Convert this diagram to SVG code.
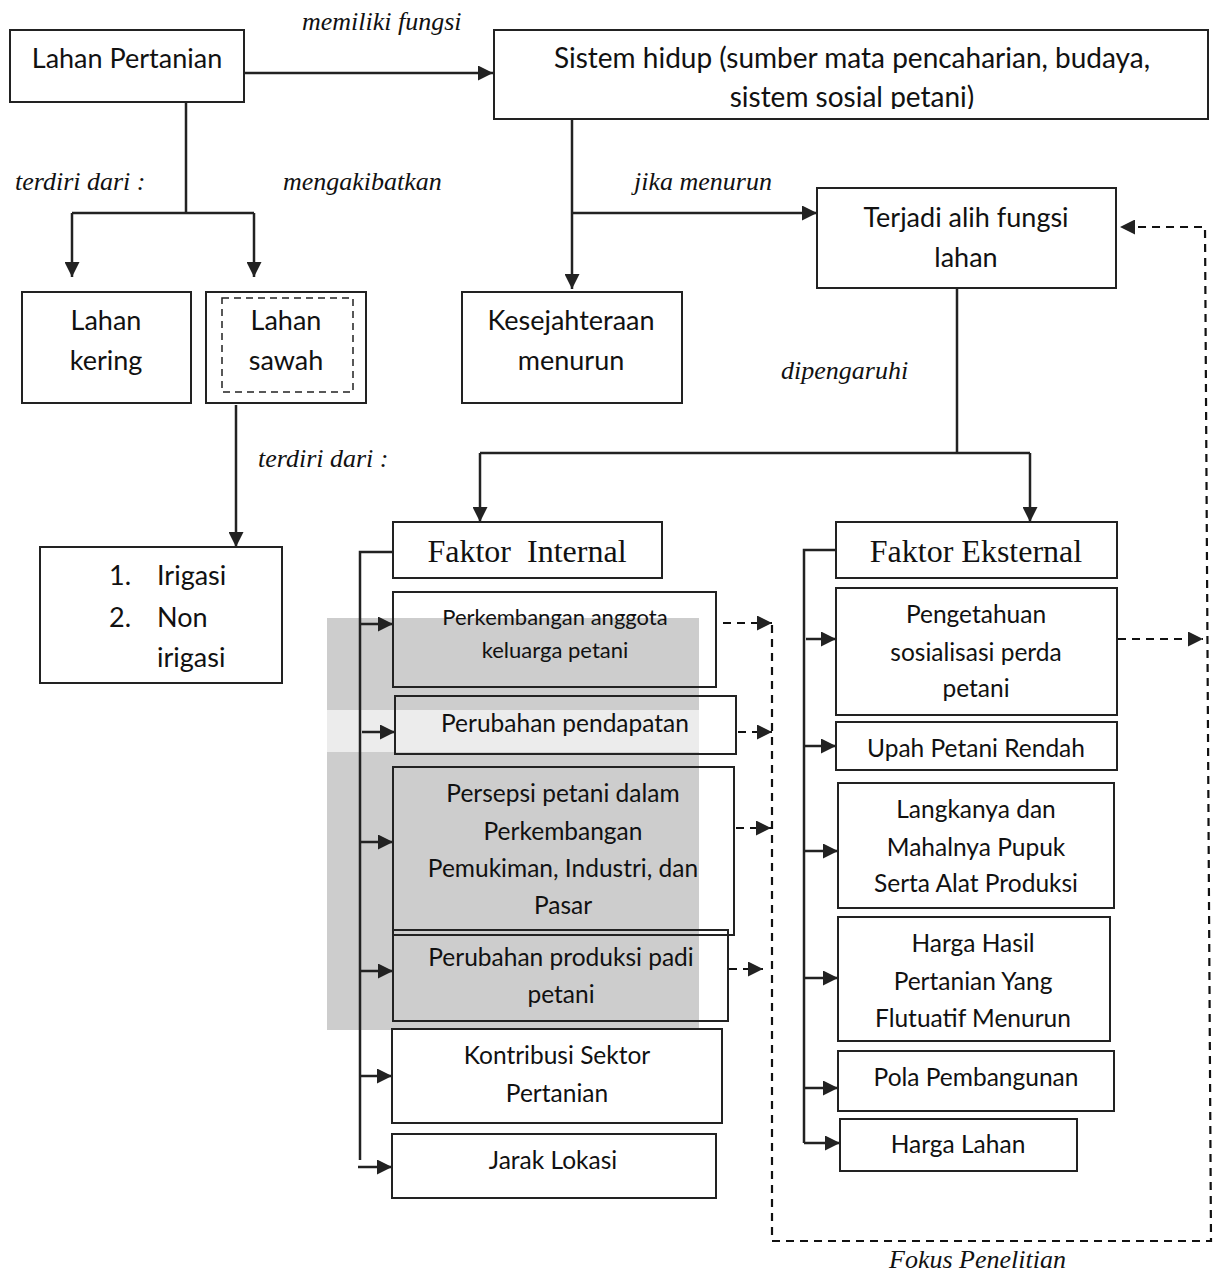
<svg xmlns="http://www.w3.org/2000/svg" width="1223" height="1276" viewBox="0 0 1223 1276">
<style>
.box{fill:none;stroke:#222;stroke-width:2}
.t{font-family:Lato,"Liberation Sans",sans-serif;fill:#111;text-anchor:middle}
.big{font-size:27px}
.mid{font-size:24.5px}
.sm{font-size:22px}
.lbl{font-family:"Liberation Serif","Times New Roman",serif;font-style:italic;font-size:26px;fill:#111}
.fk{font-family:"Liberation Serif","Times New Roman",serif;font-size:32px;fill:#111;text-anchor:middle}
.c{fill:none;stroke:#222;stroke-width:2.5}
.d{fill:none;stroke:#111;stroke-width:2.2;stroke-dasharray:8 6}
</style>
<defs>
<marker id="ah" viewBox="0 0 10 10" refX="10" refY="5" markerWidth="16" markerHeight="15" markerUnits="userSpaceOnUse" orient="auto">
<path d="M0,0 L10,5 L0,10 z" fill="#222"/>
</marker>
<clipPath id="clipS"><rect x="494" y="29" width="714" height="80"/></clipPath>
</defs>
<rect width="1223" height="1276" fill="#fff"/>
<g id="watermark-block">
<rect x="327" y="618" width="372" height="92" fill="#cdcdcd"/>
<rect x="327" y="710" width="372" height="42" fill="#ececec"/>
<rect x="327" y="752" width="372" height="278" fill="#cdcdcd"/>
</g>
<g id="connectors">
<path class="c" d="M244,73 H493" marker-end="url(#ah)"/>
<path class="c" d="M186,102 V213 M72,213 H254"/>
<path class="c" d="M72,213 V277" marker-end="url(#ah)"/>
<path class="c" d="M254,213 V277" marker-end="url(#ah)"/>
<path class="c" d="M236,405 V547" marker-end="url(#ah)"/>
<path class="c" d="M572,119 V289" marker-end="url(#ah)"/>
<path class="c" d="M572,213 H817" marker-end="url(#ah)"/>
<path class="c" d="M957,289 V453 M480,453 H1030"/>
<path class="c" d="M480,453 V522" marker-end="url(#ah)"/>
<path class="c" d="M1030,453 V522" marker-end="url(#ah)"/>
<path class="c" d="M393,552 H360 V1160"/>
<path class="c" d="M360,624 H393" marker-end="url(#ah)"/>
<path class="c" d="M362,732 H395" marker-end="url(#ah)"/>
<path class="c" d="M360,842 H393" marker-end="url(#ah)"/>
<path class="c" d="M360,971 H393" marker-end="url(#ah)"/>
<path class="c" d="M360,1076 H392" marker-end="url(#ah)"/>
<path class="c" d="M358,1167 H392" marker-end="url(#ah)"/>
<path class="c" d="M836,550 H804 V1143"/>
<path class="c" d="M806,639 H836" marker-end="url(#ah)"/>
<path class="c" d="M804,746 H836" marker-end="url(#ah)"/>
<path class="c" d="M804,851 H838" marker-end="url(#ah)"/>
<path class="c" d="M804,978 H838" marker-end="url(#ah)"/>
<path class="c" d="M804,1088 H838" marker-end="url(#ah)"/>
<path class="c" d="M804,1143 H840" marker-end="url(#ah)"/>
<path class="d" d="M1118,639 H1203" marker-end="url(#ah)"/>
<path class="d" d="M772,625 V1241 H1211 L1205,227 H1120" marker-end="url(#ah)"/>
<path class="d" d="M723,623 H772" marker-end="url(#ah)"/>
<path class="d" d="M738,732 H772" marker-end="url(#ah)"/>
<path class="d" d="M736,828 H771" marker-end="url(#ah)"/>
<path class="d" d="M729,969 H763" marker-end="url(#ah)"/>
</g>
<g id="labels">
<text class="lbl" x="302" y="30">memiliki fungsi</text>
<text class="lbl" x="15" y="190">terdiri dari :</text>
<text class="lbl" x="283" y="190">mengakibatkan</text>
<text class="lbl" x="634" y="190">jika menurun</text>
<text class="lbl" x="781" y="379">dipengaruhi</text>
<text class="lbl" x="258" y="467">terdiri dari :</text>
<text class="lbl" x="889" y="1268">Fokus Penelitian</text>
</g>
<g id="lahan-pertanian">
<rect class="box" x="10" y="30" width="234" height="72"/>
<text class="t big" x="127" y="68">Lahan Pertanian</text>
</g>
<g id="sistem-hidup">
<rect class="box" x="494" y="30" width="714" height="89"/>
<g clip-path="url(#clipS)">
<text class="t" x="852" y="68" style="font-size:28px">Sistem hidup (sumber mata pencaharian, budaya,</text>
<text class="t" x="852" y="107" style="font-size:28px">sistem sosial petani)</text>
</g>
</g>
<g id="terjadi-alih-fungsi">
<rect class="box" x="817" y="188" width="299" height="100"/>
<text class="t big" x="966" y="227">Terjadi alih fungsi</text>
<text class="t big" x="966" y="267">lahan</text>
</g>
<g id="lahan-kering">
<rect class="box" x="22" y="292" width="169" height="111"/>
<text class="t big" x="106" y="330">Lahan</text>
<text class="t big" x="106" y="370">kering</text>
</g>
<g id="lahan-sawah">
<rect class="box" x="206" y="292" width="160" height="111"/>
<rect x="222" y="298" width="131" height="94" fill="none" stroke="#222" stroke-width="1.5" stroke-dasharray="7 5"/>
<text class="t big" x="286" y="330">Lahan</text>
<text class="t big" x="286" y="370">sawah</text>
</g>
<g id="kesejahteraan">
<rect class="box" x="462" y="292" width="220" height="111"/>
<text class="t big" x="571" y="330">Kesejahteraan</text>
<text class="t big" x="571" y="370">menurun</text>
</g>
<g id="irigasi">
<rect class="box" x="40" y="547" width="242" height="136"/>
<text class="t big" x="109" y="585" style="text-anchor:start">1.</text>
<text class="t big" x="157" y="585" style="text-anchor:start">Irigasi</text>
<text class="t big" x="109" y="627" style="text-anchor:start">2.</text>
<text class="t big" x="157" y="627" style="text-anchor:start">Non</text>
<text class="t big" x="157" y="667" style="text-anchor:start">irigasi</text>
</g>
<g id="faktor-internal">
<rect class="box" x="393" y="522" width="269" height="56"/>
<text class="fk" x="527" y="562" xml:space="preserve">Faktor  Internal</text>
</g>
<g id="perkembangan-anggota">
<rect class="box" x="393" y="592" width="323" height="95"/>
<text class="t sm" x="555" y="625">Perkembangan anggota</text>
<text class="t sm" x="555" y="658">keluarga petani</text>
</g>
<g id="perubahan-pendapatan">
<rect class="box" x="395" y="696" width="341" height="58"/>
<text class="t mid" x="565" y="732">Perubahan pendapatan</text>
</g>
<g id="persepsi-petani">
<rect class="box" x="393" y="767" width="341" height="168"/>
<text class="t mid" x="563" y="802">Persepsi petani dalam</text>
<text class="t mid" x="563" y="840">Perkembangan</text>
<text class="t mid" x="563" y="877">Pemukiman, Industri, dan</text>
<text class="t mid" x="563" y="914">Pasar</text>
</g>
<g id="perubahan-produksi">
<rect class="box" x="393" y="930" width="335" height="91"/>
<text class="t mid" x="561" y="966">Perubahan produksi padi</text>
<text class="t mid" x="561" y="1003">petani</text>
</g>
<g id="kontribusi-sektor">
<rect class="box" x="392" y="1029" width="330" height="94"/>
<text class="t mid" x="557" y="1064">Kontribusi Sektor</text>
<text class="t mid" x="557" y="1102">Pertanian</text>
</g>
<g id="jarak-lokasi">
<rect class="box" x="392" y="1134" width="324" height="64"/>
<text class="t mid" x="553" y="1169">Jarak Lokasi</text>
</g>
<g id="faktor-eksternal">
<rect class="box" x="836" y="522" width="281" height="56"/>
<text class="fk" x="976" y="562">Faktor Eksternal</text>
</g>
<g id="pengetahuan">
<rect class="box" x="836" y="588" width="281" height="127"/>
<text class="t mid" x="976" y="623">Pengetahuan</text>
<text class="t mid" x="976" y="661">sosialisasi perda</text>
<text class="t mid" x="976" y="697">petani</text>
</g>
<g id="upah-petani">
<rect class="box" x="836" y="722" width="281" height="48"/>
<text class="t mid" x="976" y="757">Upah Petani Rendah</text>
</g>
<g id="langkanya-pupuk">
<rect class="box" x="838" y="783" width="276" height="125"/>
<text class="t mid" x="976" y="818">Langkanya dan</text>
<text class="t mid" x="976" y="856">Mahalnya Pupuk</text>
<text class="t mid" x="976" y="892">Serta Alat Produksi</text>
</g>
<g id="harga-hasil">
<rect class="box" x="838" y="917" width="272" height="124"/>
<text class="t mid" x="973" y="952">Harga Hasil</text>
<text class="t mid" x="973" y="990">Pertanian Yang</text>
<text class="t mid" x="973" y="1027">Flutuatif Menurun</text>
</g>
<g id="pola-pembangunan">
<rect class="box" x="838" y="1051" width="276" height="60"/>
<text class="t mid" x="976" y="1086">Pola Pembangunan</text>
</g>
<g id="harga-lahan">
<rect class="box" x="840" y="1119" width="237" height="52"/>
<text class="t mid" x="958" y="1153">Harga Lahan</text>
</g>
</svg>
